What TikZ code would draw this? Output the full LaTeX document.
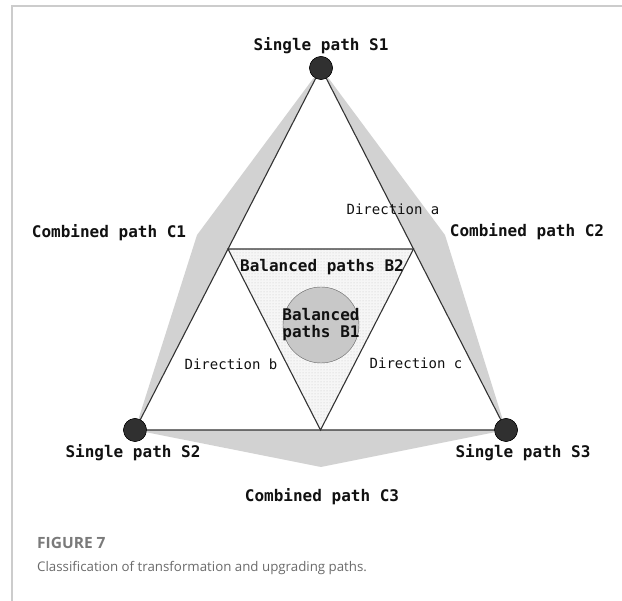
\documentclass[tikz,border=0pt]{standalone}
\usepackage{fontspec}
\setmonofont{DejaVu Sans Mono}
\newfontfamily\capfont{Open Sans}
\usetikzlibrary{calc,patterns,positioning}
\definecolor{Ink}{HTML}{111111}
\definecolor{Edge}{HTML}{333333}
\definecolor{Knob}{HTML}{303030}
\definecolor{Shade}{HTML}{D2D2D2}
\definecolor{Core}{HTML}{C8C8C8}
\definecolor{Mist}{HTML}{F6F6F6}
\definecolor{Frame}{HTML}{CCCCCC}
\definecolor{CapGrey}{HTML}{6A6A6A}
\definecolor{HeadGrey}{HTML}{7A7A7A}

\begin{document}
\begin{tikzpicture}[x=1pt,y=-1pt,
    vertex/.style={circle,draw=black,fill=Knob,minimum size=23pt,inner sep=0pt},
    pathlab/.style={font=\ttfamily\bfseries\fontsize{16}{18}\selectfont,text=Ink,inner sep=1pt},
    dirlab/.style={font=\ttfamily\fontsize{14}{16}\selectfont,text=Ink,inner sep=1pt}]
  \useasboundingbox (0,0) rectangle (622,601);
  % page frame
  \draw[Frame,line width=2pt] (622,6) -- (12,6) -- (12,601);

  % corner nodes
  \node[vertex] (s1) at (321,68) {};
  \node[vertex] (s2) at (135,430) {};
  \node[vertex] (s3) at (506,430) {};
  \coordinate (c1) at (197,235);
  \coordinate (c2) at (445,235);
  \coordinate (c3) at (321,467);
  \coordinate (m12) at ($(s1.center)!0.5!(s2.center)$);
  \coordinate (m13) at ($(s1.center)!0.5!(s3.center)$);
  \coordinate (m23) at ($(s2.center)!0.5!(s3.center)$);

  % combined paths
  \fill[Shade] (s1.center) -- (c1) -- (s2.center) -- cycle;
  \fill[Shade] (s1.center) -- (c2) -- (s3.center) -- cycle;
  \fill[Shade] (s2.center) -- (c3) -- (s3.center) -- cycle;

  % balanced paths B2
  \fill[Mist] (m12) -- (m13) -- (m23) -- cycle;
  \fill[pattern=dots,pattern color=gray!45] (m12) -- (m13) -- (m23) -- cycle;
  \draw[Edge,line width=1.1pt] (m12) -- (m13) -- (m23) -- cycle;
  \draw[Edge,line width=1.1pt] (s1.center) -- (s2.center) -- (s3.center) -- cycle;

  % balanced paths B1
  \node[circle,draw=gray!80!black,fill=Core,minimum size=76pt,inner sep=0pt] (b1) at (321,325) {};
  \node[pathlab,align=center] (b1lab) at (b1) {Balanced\\[-1pt]paths B1};

  \node[vertex] at (s1) {};
  \node[vertex] at (s2) {};
  \node[vertex] at (s3) {};

  % labels
  \node[pathlab,above=1pt of s1] (l1) {Single path S1};
  \node[pathlab] (l2) at (133,453) {Single path S2};
  \node[pathlab] (l3) at (523,453) {Single path S3};
  \node[pathlab] (lc1) at (109,233) {Combined path C1};
  \node[pathlab] (lc2) at (527,232) {Combined path C2};
  \node[pathlab] (lc3) at (322,497) {Combined path C3};
  \node[pathlab] (lb2) at (322,267) {Balanced paths B2};
  \node[dirlab] (da) at (393,209) {Direction a};
  \node[dirlab] (db) at (231,364) {Direction b};
  \node[dirlab] (dc) at (416,363) {Direction c};

  % caption
  \node[anchor=west,inner sep=0pt,text=HeadGrey,font=\capfont\bfseries\fontsize{15.5}{18}\selectfont] (fig) at (37,543) {FIGURE 7};
  \node[anchor=west,inner sep=0pt,text=CapGrey,font=\capfont\fontsize{13.3}{16}\selectfont] (cap) at (37,568) {Classification of transformation and upgrading paths.};
\end{tikzpicture}
\end{document}
